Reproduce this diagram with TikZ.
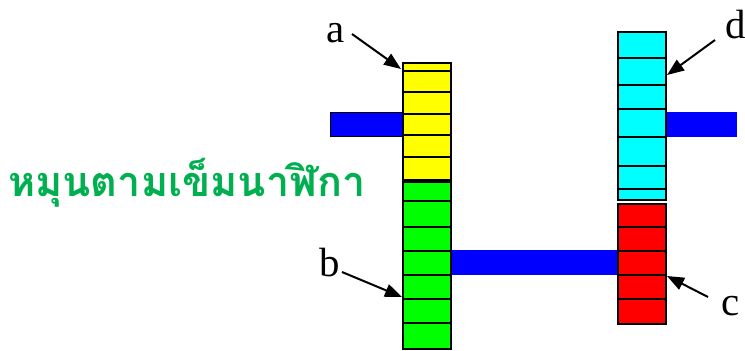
\documentclass[tikz,border=0pt]{standalone}
\usepackage{fontspec}
\setmainfont{Liberation Serif}
\newfontfamily\thaifont[Script=Thai]{Loma}
\usetikzlibrary{arrows.meta}
\definecolor{thgreen}{RGB}{0,176,80}
\definecolor{shaftblue}{RGB}{0,0,255}
\definecolor{gyellow}{RGB}{255,255,0}
\definecolor{ggreen}{RGB}{0,255,0}
\definecolor{gcyan}{RGB}{0,255,255}
\definecolor{gred}{RGB}{255,0,0}
\begin{document}
\begin{tikzpicture}[x=1bp,y=-1bp,
  gear/.style={draw=black,line width=1.5bp,minimum width=48bp,inner sep=0pt,anchor=north west},
  cell/.style={draw=black,line width=1.5bp},
  shaft/.style={fill=shaftblue},
  lbl/.style={font=\fontsize{41}{41}\selectfont,inner sep=0pt},
  pointer/.style={-{Triangle[length=17bp,width=13bp]},line width=2bp}]
\useasboundingbox (0,0) rectangle (745,350);
% shafts
\fill[shaft,draw=black,line width=1bp] (330,112) rectangle (402,136);
\fill[shaft] (450,250) rectangle (618,275);
\fill[shaft] (665,112) rectangle (737,137);
% gear a (yellow)
\node[gear,fill=gyellow,minimum height=117bp] (ga) at (402,62) {};
\foreach \y in {71,92,114,135,157} \draw[cell] (402,\y) -- (450,\y);
% gear b (green)
\node[gear,fill=ggreen,minimum height=167bp] (gb) at (402,181) {};
\foreach \y in {201,227,251,275,299,323} \draw[cell] (402,\y) -- (450,\y);
% gear d (cyan)
\node[gear,fill=gcyan,minimum height=168bp] (gd) at (617,31) {};
\foreach \y in {58,85,109,137,166,189} \draw[cell] (617,\y) -- (665,\y);
% gear c (red)
\node[gear,fill=gred,minimum height=120bp] (gc) at (617,203) {};
\foreach \y in {227,251,275,299} \draw[cell] (617,\y) -- (665,\y);
% labels
\node[lbl] (la) at (336,33) {a};
\node[lbl] (lb) at (330,263) {b};
\node[lbl] (lc) at (731,306) {c};
\node[lbl] (ld) at (736,25) {d};
\coordinate (pa) at (401,69);
\coordinate (pb) at (402,297);
\coordinate (pc) at (667,276);
\coordinate (pd) at (667,75);
\draw[pointer] (352,34) -- (pa);
\draw[pointer] (342,272) -- (pb);
\draw[pointer] (708,297) -- (pc);
\draw[pointer] (715,40) -- (pd);
% Thai text
\node[anchor=west,inner sep=0pt,text=thgreen,font=\thaifont\bfseries\fontsize{41.5}{41.5}\selectfont] (title) at (8,183) {หมุนตามเข็มนาฬิกา};
\end{tikzpicture}
\end{document}
